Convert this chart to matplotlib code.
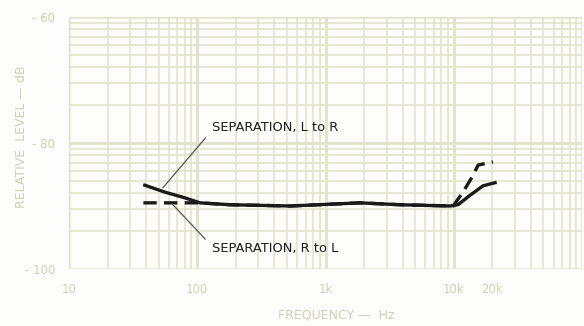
import numpy as np
import matplotlib
matplotlib.use("Agg")
import matplotlib.pyplot as plt

# separation curves (Hz, dB)
freq_lr = [39, 56, 80, 105, 180, 530, 1860, 3800, 9350, 10800, 13400, 16900, 21000]
sep_lr = [-86.7, -87.8, -88.7, -89.5, -89.8, -90.0, -89.5, -89.8, -90.0, -89.8, -88.3, -86.8, -86.3]

freq_rl = [38, 105, 180, 530, 1860, 3800, 9900, 11800, 13900, 15500, 20200]
sep_rl = [-89.5, -89.5, -89.8, -90.0, -89.5, -89.8, -90.0, -87.8, -85.4, -83.5, -83.0]

x_ticks = [10, 100, 1000, 10000, 20000]
x_labels = ["10", "100", "1k", "10k", "20k"]
y_ticks = [-60, -80, -100]
y_labels = ["-60", "-80", "-100"]

GRID = "#e3e3cc"
PALE = "#d0d0b8"

fig = plt.figure(figsize=(5.84, 3.26), dpi=100)
fig.patch.set_facecolor("#fdfdfb")
ax = fig.add_axes([69 / 584, 57 / 326, 513 / 584, 252 / 326])
ax.set_facecolor("#fdfdfb")
ax.set_xscale("log")
ax.set_xlim(10, 100000)
ax.set_ylim(-100, -60)

# log paper grid
for dec in [10, 100, 1000, 10000]:
    for k in range(1, 11):
        ax.axvline(dec * k, color=GRID, lw=1.8 if k in (1, 10) else 1.2, zorder=0)
for top in [-60, -80]:
    for k in range(1, 11):
        y = top - (1 - np.log10(k)) * 20
        ax.axhline(y, color=GRID, lw=1.8 if k in (1, 10) else 1.2, zorder=0)

for s in ax.spines.values():
    s.set_visible(False)
ax.tick_params(length=0, colors=PALE, labelsize=8.5)
ax.set_xticks(x_ticks)
ax.set_xticklabels(x_labels)
ax.xaxis.set_minor_locator(matplotlib.ticker.NullLocator())
ax.set_yticks(y_ticks)
ax.set_yticklabels([l.replace("-", "- ") for l in y_labels])
ax.tick_params(axis="x", pad=10)
ax.tick_params(axis="y", pad=10)

ax.plot(freq_rl, sep_rl, color="#1a1a1a", lw=2.4, dashes=(4, 2.2), zorder=3)
ax.plot(freq_lr, sep_lr, color="#1a1a1a", lw=2.4, zorder=4)

ax.annotate("SEPARATION, L to R", xy=(54, -87.1), xytext=(130, -77.6),
            fontsize=9.4, color="#1e1e1e", va="center", ha="left",
            arrowprops=dict(arrowstyle="-", color="#555555", lw=0.9, shrinkA=4, shrinkB=0,
                            relpos=(0, 0.3)))
ax.annotate("SEPARATION, R to L", xy=(64, -89.7), xytext=(130, -96.8),
            fontsize=9.4, color="#1e1e1e", va="center", ha="left",
            arrowprops=dict(arrowstyle="-", color="#555555", lw=0.9, shrinkA=4, shrinkB=0,
                            relpos=(0, 0.7)))

fig.text(22 / 584, 1 - 137 / 326, "RELATIVE  LEVEL — dB", rotation=90, color=PALE,
         fontsize=9, ha="center", va="center")
fig.text(336 / 584, 1 - 315 / 326, "FREQUENCY —  Hz", color=PALE,
         fontsize=9, ha="center", va="center")

fig.savefig("out.png", dpi=100, facecolor=fig.get_facecolor())
